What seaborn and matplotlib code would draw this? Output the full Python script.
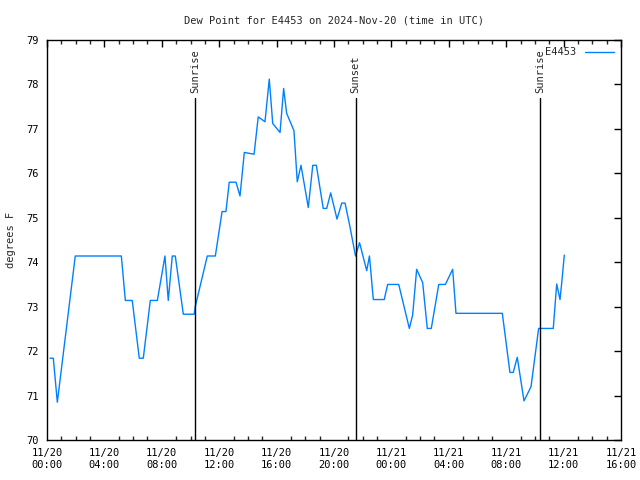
import matplotlib
matplotlib.use("Agg")
import matplotlib.pyplot as plt
import matplotlib.dates as mdates
import seaborn as sns
import pandas as pd
import numpy as np

# Hours since 2024-11-20 00:00 UTC
hours = [0.21, 0.44, 0.72, 1.97, 5.18, 5.46, 5.94, 6.43, 6.71, 7.20, 7.69, 8.22, 8.45,
         8.73, 8.94, 9.50, 10.26, 10.33, 11.17, 11.73, 12.20, 12.47, 12.70, 13.17, 13.45,
         13.75, 14.43, 14.72, 15.19, 15.49, 15.73, 16.24, 16.49, 16.70, 17.21, 17.44,
         17.70, 18.21, 18.52, 18.77, 19.25, 19.49, 19.77, 20.21, 20.54, 20.77, 21.11,
         21.50, 21.78, 22.28, 22.47, 22.74, 23.50, 23.74, 24.51, 25.25, 25.48, 25.76,
         26.18, 26.50, 26.78, 27.30, 27.76, 28.27, 28.50, 31.73, 32.26, 32.49, 32.77,
         33.24, 33.73, 34.26, 35.28, 35.52, 35.75, 35.87, 36.05]
dewpoint = [71.84, 71.84, 70.85, 74.14, 74.14, 73.14, 73.14, 71.84, 71.84, 73.14, 73.14,
            74.14, 73.14, 74.14, 74.14, 72.83, 72.83, 73.0, 74.14, 74.14, 75.14, 75.14,
            75.8, 75.8, 75.49, 76.47, 76.43, 77.27, 77.16, 78.12, 77.12, 76.92, 77.91,
            77.35, 76.96, 75.81, 76.18, 75.23, 76.18, 76.18, 75.21, 75.21, 75.56, 74.97,
            75.33, 75.33, 74.8, 74.14, 74.44, 73.81, 74.14, 73.16, 73.16, 73.5, 73.5,
            72.51, 72.81, 73.84, 73.54, 72.51, 72.51, 73.5, 73.5, 73.84, 72.85, 72.85,
            71.52, 71.52, 71.86, 70.88, 71.2, 72.51, 72.51, 73.51, 73.16, 73.54, 74.16]

event_labels = ["Sunrise", "Sunset", "Sunrise"]
event_hours = [10.33, 21.50, 34.37]

station = "E4453"
base = pd.Timestamp("2024-11-20 00:00")

df = pd.DataFrame({"time": base + pd.to_timedelta(hours, unit="h"),
                   "dewpoint": dewpoint})

sns.set_style("white")
plt.rcParams["font.family"] = ["DejaVu Sans Mono", "DejaVu Sans"]
plt.rcParams["font.size"] = 7.5

fig = plt.figure(figsize=(6.4, 4.8), dpi=100)
ax = fig.add_axes([47/640, 40/480, (621-47)/640, 400/480])

sns.lineplot(data=df, x="time", y="dewpoint", ax=ax, color="#0080ff",
             linewidth=1.0, label=station)

ax.set_xlim(base, base + pd.Timedelta(hours=40))
ax.set_ylim(70, 79)
ax.set_yticks(range(70, 80))

ax.xaxis.set_major_locator(mdates.HourLocator(byhour=[0, 4, 8, 12, 16, 20]))
ax.xaxis.set_minor_locator(mdates.HourLocator())
ax.xaxis.set_major_formatter(mdates.DateFormatter("%m/%d\n%H:%M"))

ax.tick_params(axis="both", which="major", direction="in", length=5, width=1,
               top=True, right=True, colors="black", pad=6)
ax.tick_params(axis="x", which="minor", direction="in", length=3, width=1,
               top=True, bottom=True)
for sp in ax.spines.values():
    sp.set_color("black")
    sp.set_linewidth(1.0)

ax.set_xlabel("")
ax.set_ylabel("degrees F", labelpad=7)
ax.set_title("Dew Point for E4453 on 2024-Nov-20 (time in UTC)", pad=12, fontsize=7.5)

line_top = (440 - 98) / 400
for lab, h in zip(event_labels, event_hours):
    t = base + pd.Timedelta(hours=h)
    ax.axvline(t, ymin=0, ymax=line_top, color="black", linewidth=1.0)
    ax.text(t, 70 + 9 * (440 - 93) / 400, lab, rotation=90, ha="center",
            va="bottom", fontsize=7.5)

leg = ax.legend(loc="upper right", frameon=False, markerfirst=False,
                handlelength=2.8, borderaxespad=0.3, handletextpad=0.8)

fig.savefig("out.png", dpi=100)
